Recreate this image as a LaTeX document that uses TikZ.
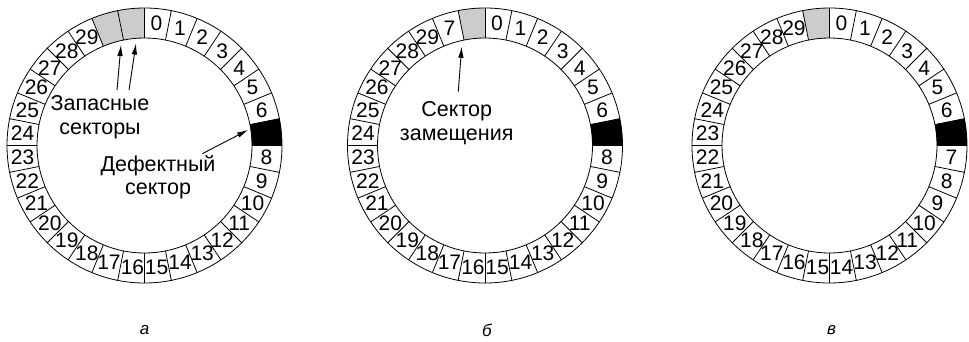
\documentclass[tikz,border=0pt]{standalone}
\usepackage{fontspec}
\setmainfont{Liberation Sans}
\usetikzlibrary{arrows.meta}
\newcommand\fillslot[2]{%
  \pgfmathsetmacro\slotA{90-11.25*#2}%
  \pgfmathsetmacro\slotB{\slotA-11.25}%
  \fill[#1] (\slotA:107.5) arc[start angle=\slotA,end angle=\slotB,radius=107.5]
    -- (\slotB:137.5) arc[start angle=\slotB,end angle=\slotA,radius=137.5] -- cycle;}
\newcommand\drawring{%
  \draw (0,0) circle[radius=137.5] (0,0) circle[radius=107.5];
  \foreach \k in {0,...,31}
    \draw ({90-11.25*\k}:107.5) -- ({90-11.25*\k}:137.5);}
\begin{document}
\begin{tikzpicture}[x=1pt,y=1pt,line width=.8pt,
  num/.style={font=\fontsize{21}{21}\selectfont,inner sep=0pt},
  note/.style={font=\fontsize{21.5}{23.5}\selectfont,align=center,inner sep=0pt},
  sub/.style={font=\fontsize{17}{17}\selectfont\itshape,inner sep=0pt},
  pointer/.style={-{Latex[length=11pt,width=5.5pt]},line width=.9pt}]
\useasboundingbox (0,0) rectangle (969,341);
\begin{scope}[shift={(144.5,195.5)}]
 \fillslot{gray!40}{30} \fillslot{gray!40}{31} \fillslot{black}{7}
 \drawring
 \foreach \i in {0,...,6,8,9,...,29}
   \node[num] (a\i) at ({84.375-11.25*\i}:122.5) {\i};
 \node[note] (spare) at (-44.5,28.5) {Запасные\\секторы};
 \coordinate (spareL) at (-23.5,100.5);
 \coordinate (spareR) at (-8.5,102);
 \draw[pointer] ([xshift=17pt,yshift=5pt]spare.north) -- (spareL);
 \draw[pointer] ([xshift=29pt,yshift=5pt]spare.north) -- (spareR);
 \node[note] (bad) at (13.5,-32) {Дефектный\\сектор};
 \coordinate (badtip) at (103.5,15.5);
 \draw[pointer] ([xshift=-13.5pt,yshift=1.5pt]bad.north east) -- (badtip);
 \node[sub] (capa) at (0,-184.5) {а};
\end{scope}
\begin{scope}[shift={(485,195.5)}]
 \fillslot{gray!40}{31} \fillslot{black}{7}
 \drawring
 \foreach \i in {0,...,6,8,9,...,29}
   \node[num] (b\i) at ({84.375-11.25*\i}:122.5) {\i};
 \node[num] (b7) at ({84.375-11.25*30}:122.5) {7};
 \node[note] (swap) at (-28.3,22.2) {Сектор\\замещения};
 \coordinate (swaptip) at (-23.3,98.8);
 \draw[pointer] ([xshift=1.6pt,yshift=10pt]swap.north) -- (swaptip);
 \node[sub] (capb) at (2,-184.5) {б};
\end{scope}
\begin{scope}[shift={(829.5,195.5)}]
 \fillslot{gray!40}{31} \fillslot{black}{7}
 \drawring
 \foreach \i in {0,...,6}
   \node[num] (c\i) at ({84.375-11.25*\i}:122.5) {\i};
 \foreach \i [evaluate=\i as \n using int(\i-1)] in {8,...,30}
   \node[num] (c\n) at ({84.375-11.25*\i}:122.5) {\n};
 \node[sub] (capc) at (2,-184.5) {в};
\end{scope}
\end{tikzpicture}
\end{document}
